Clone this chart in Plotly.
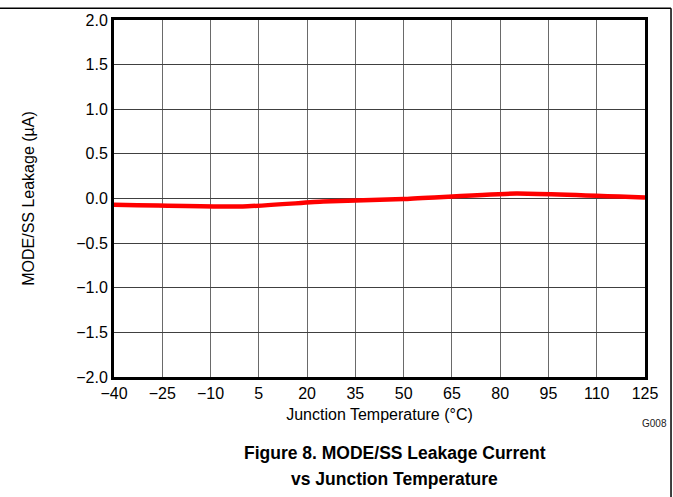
import plotly.graph_objects as go

temps = [-40, 0, 25, 50, 85, 125]
leakage = [-0.07, -0.09, -0.035, -0.005, 0.055, 0.01]

x_ticks = [-40, -25, -10, 5, 20, 35, 50, 65, 80, 95, 110, 125]
y_ticks = [-2.0, -1.5, -1.0, -0.5, 0.0, 0.5, 1.0, 1.5, 2.0]


def fmt(v, dec):
    s = f"{abs(v):.{dec}f}"
    return ("\u2212" + s) if v < 0 else s


fig = go.Figure()
fig.add_trace(go.Scatter(x=temps, y=leakage, mode="lines",
                         line=dict(color="#ff0000", width=4.5, shape="spline", smoothing=0.4),
                         showlegend=False))

font = dict(family="Liberation Sans, Arial, sans-serif", color="black", size=16)

fig.update_xaxes(range=[-40, 125], tickvals=x_ticks, ticktext=[fmt(v, 0) for v in x_ticks],
                 showgrid=True, gridcolor="#6a6a6a", gridwidth=1, zeroline=False,
                 showline=True, linecolor="black", linewidth=3, mirror=True,
                 ticks="", tickfont=font,
                 title=dict(text="Junction Temperature (\u00b0C)", font=font, standoff=8))
fig.update_yaxes(range=[-2, 2], tickvals=y_ticks, ticktext=[fmt(v, 1) for v in y_ticks],
                 showgrid=True, gridcolor="#404040", gridwidth=1, zeroline=False,
                 showline=True, linecolor="black", linewidth=3, mirror=True,
                 ticks="", tickfont=font,
                 title=dict(text="MODE/SS Leakage (\u00b5A)", font=font, standoff=38))

fig.update_layout(
    width=673, height=497,
    margin=dict(l=114, r=28, t=17, b=120),
    paper_bgcolor="white", plot_bgcolor="white",
    font=font,
    shapes=[
        dict(type="line", xref="paper", yref="paper", x0=-0.3, x1=1.049, y0=1.033, y1=1.033,
             line=dict(color="black", width=1.5)),
        dict(type="line", xref="paper", yref="paper", x0=1.049, x1=1.049, y0=1.033, y1=-0.34,
             line=dict(color="black", width=1.5)),
    ],
    annotations=[
        dict(text="G008", xref="paper", yref="paper", x=1.045, y=-0.13, xanchor="right",
             yanchor="middle", showarrow=False, font=dict(family="Liberation Sans", size=10, color="#222")),
        dict(text="<b>Figure 8. MODE/SS Leakage Current</b>", xref="paper", yref="paper",
             x=0.529, y=-0.214, xanchor="center", yanchor="middle", showarrow=False,
             font=dict(family="Liberation Sans, Arial, sans-serif", size=17.5, color="black")),
        dict(text="<b>vs Junction Temperature</b>", xref="paper", yref="paper",
             x=0.529, y=-0.286, xanchor="center", yanchor="middle", showarrow=False,
             font=dict(family="Liberation Sans, Arial, sans-serif", size=17.5, color="black")),
    ],
)

# drop the default 8px body margin so the figure fills the window exactly
fig.write_html("out.html", config={"displayModeBar": False},
               post_script="document.body.style.margin='0';document.body.style.overflow='hidden';")
